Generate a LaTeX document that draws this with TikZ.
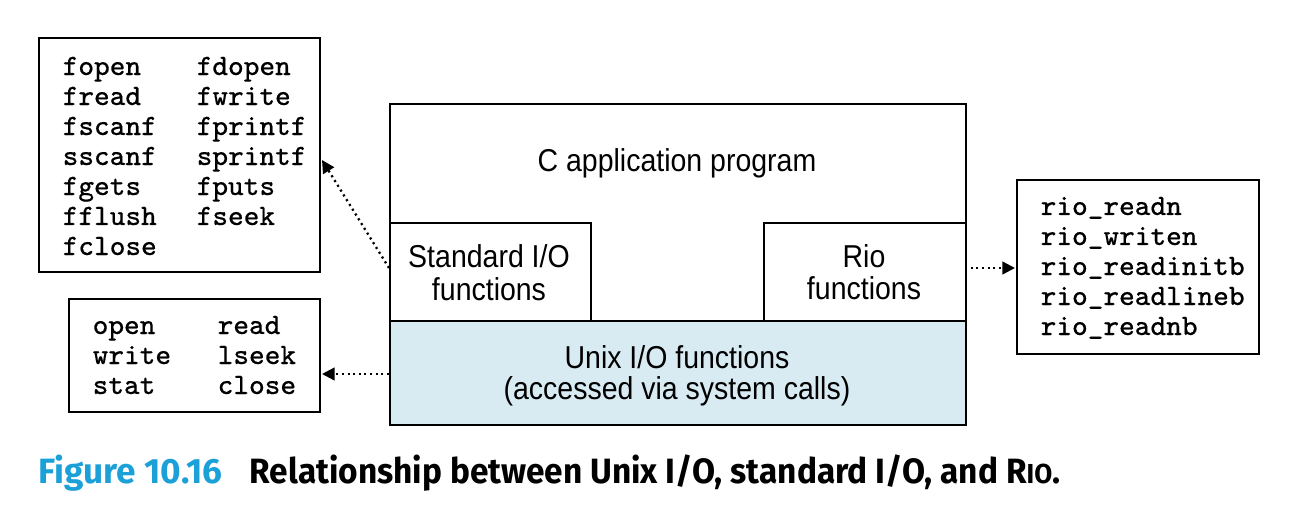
\documentclass[tikz,border=0pt]{standalone}
\usepackage{fontspec}
\usetikzlibrary{arrows.meta}
\newfontfamily\labelfont[FakeStretch=0.9]{Liberation Sans}
\newfontfamily\codefont[FakeBold=0.35]{Latin Modern Mono}
\newfontfamily\capfont[FakeStretch=0.95]{Fira Sans}
\newfontfamily\capfontb[FakeStretch=1.0]{Fira Sans}
\definecolor{unixblue}{RGB}{216,235,243}
\definecolor{capblue}{RGB}{27,160,216}
\tikzset{
  box/.style={draw, line width=0.6pt, inner sep=0pt, anchor=north west},
  code/.style={anchor=base west, inner sep=0pt, font=\fontsize{8.4}{10}\selectfont\codefont},
  lbl/.style={anchor=base, inner sep=0pt, font=\fontsize{9}{10}\selectfont\labelfont},
  dotarrow/.style={line width=0.65pt, dash pattern=on 0.6pt off 1.0pt,
    -{Triangle[length=3.6pt,width=3.6pt]}},
}
\begin{document}
\begin{tikzpicture}[x=0.01cm, y=-0.01cm]
\useasboundingbox (0,0) rectangle (1296,518);
% boxes
\node[box, minimum width=2.81cm, minimum height=2.34cm] (fbox) at (38,37) {};
\node[box, minimum width=2.51cm, minimum height=1.13cm] (ubox) at (68,298) {};
\node[box, minimum width=2.42cm, minimum height=1.74cm] (rbox) at (1016,179) {};
\node[box, minimum width=5.76cm, minimum height=3.21cm] (main) at (389,103) {};
\node[box, fill=unixblue, minimum width=5.76cm, minimum height=1.04cm] (unix) at (389,320) {};
\node[box, minimum width=2.01cm, minimum height=0.98cm] (std) at (389,222) {};
\node[box, minimum width=2.02cm, minimum height=0.98cm] (rio) at (763,222) {};
% labels
\node[lbl] (capp) at (677,172) {C application program};
\node[lbl] (std1) at (489,267) {Standard I/O};
\node[lbl] (std2) at (489,300) {functions};
\node[lbl] (rio1) at (864,267) {Rio};
\node[lbl] (rio2) at (864,299) {functions};
\node[lbl] (unix1) at (677,368) {Unix I/O functions};
\node[lbl] (unix2) at (677,399) {(accessed via system calls)};
% standard I/O list
\foreach \a/\b [count=\i from 0] in {fopen/fdopen,fread/fwrite,fscanf/fprintf,sscanf/sprintf,fgets/fputs,fflush/fseek}{
  \node[code] (fa\i) at (62,75+30*\i) {\a};
  \node[code] (fb\i) at (196,75+30*\i) {\b};
}
\node[code] (fa6) at (62,255) {fclose};
% unix list
\foreach \a/\b [count=\i from 0] in {open/read,write/lseek,stat/close}{
  \node[code] (ua\i) at (92,334+30*\i) {\a};
  \node[code] (ub\i) at (217,334+30*\i) {\b};
}
% rio list
\foreach \a [count=\i from 0] in {rio\_readn,rio\_writen,rio\_readinitb,rio\_readlineb,rio\_readnb}{
  \node[code] (r\i) at (1040,215+30*\i) {\a};
}
% arrows
\coordinate (stdfrom) at (389,268);
\coordinate (stdtip) at (322,160);
\coordinate (unixfrom) at (389,374);
\coordinate (unixtip) at (322,374);
\coordinate (riofrom) at (965,268);
\coordinate (riotip) at (1015,268);
\draw[dotarrow] (stdfrom) -- (stdtip);
\draw[dotarrow] (unixfrom) -- (unixtip);
\draw[dotarrow] (riofrom) -- (riotip);
% caption
\node[anchor=base west, inner sep=0pt, font=\fontsize{10}{12}\selectfont\capfontb\bfseries, text=capblue] (capnum) at (38,483) {Figure 10.16};
\node[anchor=base west, inner sep=0pt, font=\fontsize{10}{12}\selectfont\capfont\bfseries] (captext) at (249,483) {Relationship between Unix I/O, standard I/O, and R{\fontsize{7.8}{9}\selectfont IO}.};
\end{tikzpicture}
\end{document}
